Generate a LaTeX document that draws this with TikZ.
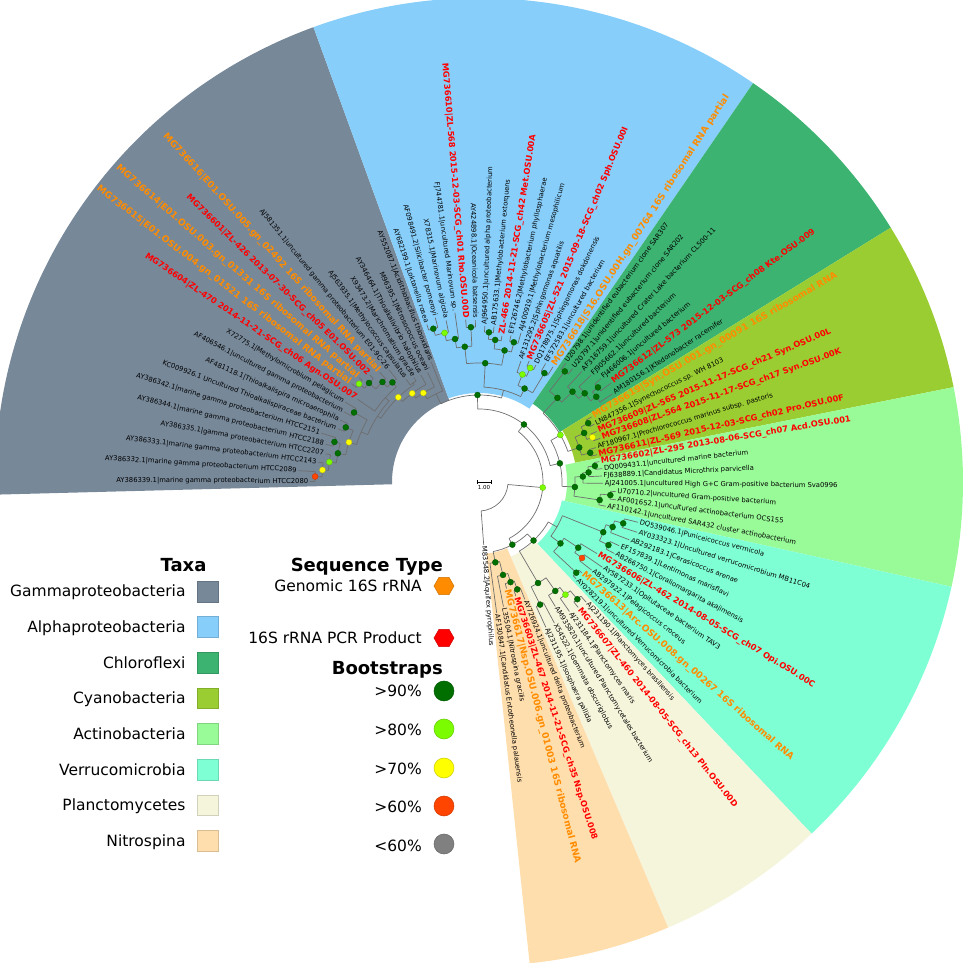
\documentclass[tikz,border=0pt]{standalone}
\usepackage{fontspec}
\setmainfont{DejaVu Sans}
\pgfdeclarelayer{dots}
\pgfsetlayers{main,dots}
\definecolor{cgam}{HTML}{778899}
\definecolor{calp}{HTML}{87CEFA}
\definecolor{cchl}{HTML}{3CB371}
\definecolor{ccya}{HTML}{9ACD32}
\definecolor{cact}{HTML}{98FB98}
\definecolor{cver}{HTML}{7FFFD4}
\definecolor{cpla}{HTML}{F5F5DC}
\definecolor{cnit}{HTML}{FFDEAD}
\definecolor{bs90}{HTML}{006F00}
\definecolor{bs80}{HTML}{7CFC00}
\definecolor{bs70}{HTML}{FFFF00}
\definecolor{bs60}{HTML}{FF4500}
\definecolor{bs00}{HTML}{808080}
\definecolor{pcr}{HTML}{FF0000}
\definecolor{gen}{HTML}{FF8C00}
\definecolor{brc}{HTML}{6E6E6E}
\newcommand\IN[6]{%
  \draw[br] (#2:#5) -- (#2:#1);
  \draw[br] (#3:#1) arc[start angle=#3, end angle=#4, radius=#1];
  \if\relax\detokenize{#6}\relax\else
    \begin{pgfonlayer}{dots}\fill[#6, draw=#6!75!black, line width=0.3pt] (#2:#1) circle[radius=3];\end{pgfonlayer}
  \fi}
\newcommand\LF[5]{%
  \pgfmathsetmacro\la{179.8-3.404*(#1-1)}%
  \pgfmathsetmacro\lr{#3+1}%
  \draw[br] (\la:#2) -- (\la:#3);
  \ifdim\la pt>90pt
    \node[#4, anchor=east, rotate=\la+180] (L#1) at (\la:\lr) {#5};
  \else
    \node[#4, anchor=west, rotate=\la] (L#1) at (\la:\lr) {#5};
  \fi}
\newcommand\WEDGE[4]{% a1 a2 rin color
  \fill[#4] (#1:#3) arc[start angle=#1, end angle=#2, radius=#3] -- (#2:484) arc[start angle=#2, end angle=#1, radius=484] -- cycle;}
\begin{document}
\begin{tikzpicture}[x=1pt,y=1pt,
  br/.style={draw=brc, line width=0.7pt},
  lb/.style={font=\fontsize{6.8}{8}\selectfont, text=black, inner sep=0.6pt},
  lr/.style={font=\bfseries\fontsize{8.3}{9}\selectfont, text=pcr, inner sep=0.6pt},
  lo/.style={font=\bfseries\fontsize{9.2}{10}\selectfont, text=gen, inner sep=0.6pt},
  lgt/.style={font=\fontsize{15.5}{17}\selectfont, inner sep=0pt},
  lgh/.style={font=\bfseries\fontsize{18}{20}\selectfont, inner sep=0pt},
  sq/.style={draw=#1!85!black, fill=#1, line width=0.5pt},
  bd/.style={draw=#1!80!black, fill=#1, line width=0.5pt}]
\useasboundingbox (-479,-481) rectangle (485,482);
\begin{scope}
\clip (-479,-481) rectangle (485,482);
\WEDGE{110}{181.5}{87}{cgam}
\WEDGE{55.5}{110}{89}{calp}
\WEDGE{31.7}{55.5}{95}{cchl}
\WEDGE{11.3}{31.7}{98}{ccya}
\WEDGE{-12.5}{11.3}{88}{cact}
\WEDGE{-46.6}{-12.5}{85}{cver}
\WEDGE{-67}{-46.6}{81}{cpla}
\WEDGE{-84}{-67}{72}{cnit}
\end{scope}
% ---------- tree: internal nodes ----------
% Gammaproteobacteria
\IN{164}{178.1}{176.40}{179.80}{157}{bs60}
\IN{157}{175.6}{172.99}{178.1}{151}{bs70}
\IN{151}{172.4}{169.59}{175.6}{144}{bs80}
\IN{150}{164.5}{162.78}{166.18}{144}{bs90}
\IN{144}{168.5}{164.5}{172.4}{136}{bs90}
\IN{144}{157.7}{155.97}{159.38}{136}{bs90}
\IN{136}{163}{157.7}{168.5}{128}{bs70}
\IN{143}{150.9}{149.16}{152.57}{128}{bs90}
\IN{128}{157}{150.9}{163}{121}{}
\IN{155}{140.7}{138.95}{142.36}{148}{bs80}
\IN{148}{138}{135.55}{140.7}{139}{bs90}
\IN{139}{134}{132.14}{138}{132}{bs90}
\IN{132}{131}{128.74}{134}{126}{bs90}
\IN{126}{138}{131}{145.76}{121}{}
\IN{121}{147}{138}{157}{117}{}
\IN{119}{123.6}{121.93}{125.34}{117}{}
\IN{117}{133.6}{123.6}{147}{111}{bs70}
\IN{111}{127}{118.53}{133.6}{105}{bs70}
\IN{105}{122}{115.12}{127}{98}{bs70}
\IN{98}{116}{111.72}{122}{87}{}
% Alphaproteobacteria
\IN{160}{106.6}{104.91}{108.32}{153}{bs90}
\IN{153}{103}{101.51}{106.6}{145}{bs80}
\IN{145}{99.5}{98.10}{103}{136}{bs90}
\IN{155}{93}{91.30}{94.70}{136}{bs90}
\IN{136}{96}{93}{99.5}{119}{bs90}
\IN{150}{86.2}{84.49}{87.89}{143}{bs90}
\IN{143}{83.5}{81.08}{86.2}{134}{bs90}
\IN{144}{76}{74.28}{77.68}{134}{bs90}
\IN{134}{79}{76}{83.5}{119}{bs90}
\IN{119}{87}{79}{96}{95}{bs90}
\IN{125}{65.8}{64.06}{67.47}{116}{bs80}
\IN{116}{68}{65.8}{70.87}{104}{bs80}
\IN{127}{59}{57.26}{60.66}{104}{bs90}
\IN{104}{64}{59}{68}{95}{bs90}
\IN{95}{75}{64}{87}{87}{}
\IN{87}{91}{75}{116}{73}{bs90}
% Chloroflexi
\IN{140}{52.2}{50.45}{53.85}{115}{bs90}
\IN{152}{38.5}{36.83}{40.24}{145}{bs90}
\IN{145}{36}{33.43}{38.5}{138}{bs90}
\IN{138}{40}{36}{43.64}{130}{bs90}
\IN{130}{44}{40}{47.04}{115}{bs90}
\IN{115}{47}{44}{52.2}{94}{bs90}
% Cyanobacteria
\IN{124}{28.3}{26.62}{30.02}{116}{bs90}
\IN{122}{21.5}{19.81}{23.22}{116}{bs70}
\IN{116}{25}{21.5}{28.3}{106}{bs90}
\IN{115}{14.7}{13.00}{16.41}{106}{bs90}
\IN{106}{19}{14.7}{25}{94}{bs90}
\IN{94}{30}{19}{47}{83}{bs80}
% Actinobacteria
\IN{117}{7.9}{6.20}{9.60}{110}{bs90}
\IN{110}{5}{2.79}{7.9}{104}{bs90}
\IN{104}{3}{-0.61}{5}{96}{bs90}
\IN{132}{-5.7}{-7.42}{-4.02}{122}{bs90}
\IN{122}{-8.5}{-10.82}{-5.7}{96}{bs90}
\IN{96}{-3}{-8.5}{3}{83}{bs90}
\IN{83}{13}{-3}{30}{73}{bs90}
\IN{73}{52}{13}{91}{64}{bs90}
% Verrucomicrobia
\IN{150}{-16}{-17.63}{-14.23}{141}{bs90}
\IN{141}{-18.6}{-21.04}{-16}{134}{bs90}
\IN{144}{-26}{-27.84}{-24.44}{134}{bs90}
\IN{134}{-22}{-26}{-18.6}{90}{bs90}
\IN{128}{-36.4}{-38.06}{-34.65}{119}{bs60}
\IN{119}{-33.5}{-36.4}{-31.25}{102}{bs90}
\IN{133}{-43}{-44.86}{-41.46}{102}{bs90}
\IN{102}{-37}{-43}{-33.5}{90}{bs90}
\IN{90}{-30}{-37}{-22}{80}{}
% Planctomycetes
\IN{153}{-50}{-51.67}{-48.27}{142}{bs90}
\IN{142}{-52.5}{-55.08}{-50}{133}{bs80}
\IN{133}{-55}{-58.48}{-52.5}{117}{bs90}
\IN{137}{-63.5}{-65.29}{-61.88}{117}{bs90}
\IN{117}{-59.7}{-63.5}{-55}{80}{bs90}
\IN{80}{-47}{-59.7}{-30}{71}{bs90}
% Nitrospina
\IN{114}{-70.4}{-72.10}{-68.69}{105}{bs90}
\IN{105}{-72.5}{-75.50}{-70.4}{96}{bs90}
\IN{96}{-75.5}{-78.90}{-72.5}{82}{bs90}
\IN{82}{-78.5}{-82.31}{-75.5}{71}{bs90}
\IN{71}{-62}{-78.5}{-47}{64}{bs90}
\IN{64}{-5}{-62}{52}{29}{bs80}
\draw[br] (-85.71:29) arc[start angle=-85.71, end angle=-5, radius=29];
% ---------- leaves ----------
\LF{1}{164}{169}{lb}{AY386339.1|marine gamma proteobacterium HTCC2080}
\LF{2}{164}{181}{lb}{AY386332.1|marine gamma proteobacterium HTCC2089}
\LF{3}{157}{162}{lb}{AY386333.1|marine gamma proteobacterium HTCC2143}
\LF{4}{151}{156}{lb}{AY386335.1|gamma proteobacterium HTCC2207}
\LF{5}{150}{158}{lb}{AY386344.1|marine gamma proteobacterium HTCC2188}
\LF{6}{150}{165}{lb}{AY386342.1|marine gamma proteobacterium HTCC2151}
\LF{7}{144}{151}{lb}{KC009926.1 Uncultured Thioalkalispiraceae bacterium}
\LF{8}{144}{152}{lb}{AF481118.1|Thioalkalispira microaerophila}
\LF{9}{143}{152}{lb}{AF406546.1|uncultured gamma proteobacterium}
\LF{10}{143}{156}{lb}{X72775.1|Methylomicrobium pelagicum}
\LF{11}{126}{147}{lr}{MG736604|ZL-470 2014-11-21-SCG\_ch06 Agn.OSU.007}
\LF{12}{155}{161}{lo}{MG736615|E01.OSU.004.gn\_01521 16S ribosomal RNA partial}
\LF{13}{155}{159}{lo}{MG736614|E01.OSU.003.gn\_01331 16S ribosomal RNA partial}
\LF{14}{148}{153}{lr}{MG736601|ZL-426 2013-07-30-SCG\_ch05 E01.OSU.002}
\LF{15}{139}{148}{lo}{MG736616|E01.OSU.005.gn\_02492 16S ribosomal RNA partial}
\LF{16}{132}{144}{lb}{AJ581351.1|uncultured gamma proteobacterium E01-9C-26}
\LF{17}{119}{126}{lb}{AJ563935.1|Methylococcus capsulatus}
\LF{18}{119}{123}{lb}{X93473.2|Marichromatium gracile}
\LF{19}{111}{122}{lb}{AY346464.1|Thioalkalivibrio halophilus}
\LF{20}{105}{121}{lb}{M96395.1|Nitrosococcus oceani}
\LF{21}{98}{129}{lb}{AY552087.1|Acidithiobacillus thiooxidans}
\LF{22}{160}{166}{lb}{AY682199.1|Loktanella rosea}
\LF{23}{160}{170}{lb}{AF098491.2|Silicibacter pomeroyi}
\LF{24}{153}{165}{lb}{X78315.1|Marinovum algicola}
\LF{25}{145}{171}{lb}{FJ744781.1|uncultured Marinovum sp.}
\LF{26}{155}{163}{lr}{MG736610|ZL-568 2015-12-03-SCG\_ch01 Rho.OSU.00D}
\LF{27}{155}{162}{lb}{AY424898.1|Oceanicola batsensis}
\LF{28}{150}{156}{lb}{AJ964950.1|uncultured alpha proteobacterium}
\LF{29}{150}{156}{lb}{AB175633.1|Methylobacterium extorquens}
\LF{30}{143}{148}{lr}{ZL-466 2014-11-21-SCG\_ch42 Met.OSU.00A}
\LF{31}{144}{150}{lb}{EF126746.2|Methylobacterium phyllosphaerae}
\LF{32}{144}{155}{lb}{AJ400919.1|Methylobacterium mesophilicum}
\LF{33}{116}{128}{lb}{AF131295.2|Sphingomonas aquatilis}
\LF{34}{125}{131}{lr}{MG736605|ZL-521 2015-09-18-SCG\_ch02 Sph.OSU.00I}
\LF{35}{125}{130}{lb}{DQ178975.1|Sphingomonas dokdonensis}
\LF{36}{127}{136}{lb}{EF572583.1|uncultured bacterium}
\LF{37}{127}{137}{lo}{MG736618|S16.OSU.00H.gn\_00764 16S ribosomal RNA partial}
\LF{38}{140}{147}{lb}{U20798.1|unidentified eubacterium clone SAR307}
\LF{39}{140}{147}{lb}{U20797.1|unidentified eubacterium clone SAR202}
\LF{40}{130}{151}{lb}{AF316759.1|uncultured Crater Lake bacterium CL500-11}
\LF{41}{138}{155}{lb}{FJ905662.1|uncultured bacterium}
\LF{42}{152}{160}{lb}{FJ466006.1|uncultured bacterium}
\LF{43}{152}{165}{lr}{MG736612|ZL-573 2015-12-03-SCG\_ch08 Kte.OSU.009}
\LF{44}{145}{160}{lb}{AM180156.1|Ktedonobacter racemifer}
\LF{45}{124}{130}{lo}{MG736619|Syn.OSU.001.gn\_00091 16S ribosomal RNA}
\LF{46}{124}{129}{lb}{LN847356.1|Synechococcus sp. WH 8103}
\LF{47}{122}{128}{lr}{MG736609|ZL-565 2015-11-17-SCG\_ch21 Syn.OSU.00L}
\LF{48}{122}{129}{lr}{MG736608|ZL-564 2015-11-17-SCG\_ch17 Syn.OSU.00K}
\LF{49}{115}{122}{lb}{AF180967.1|Prochlorococcus marinus subsp. pastoris}
\LF{50}{115}{121}{lr}{MG736611|ZL-569 2015-12-03-SCG\_ch02 Pro.OSU.00F}
\LF{51}{117}{122}{lr}{MG736602|ZL-295 2013-08-06-SCG\_ch07 Acd.OSU.001}
\LF{52}{117}{124}{lb}{DQ009431.1|uncultured marine bacterium}
\LF{53}{110}{123}{lb}{FJ638889.1|Candidatus Microthrix parvicella}
\LF{54}{104}{124}{lb}{AJ241005.1|uncultured High G+C Gram-positive bacterium Sva0996}
\LF{55}{132}{137}{lb}{U70710.2|uncultured Gram-positive bacterium}
\LF{56}{132}{138}{lb}{AF001652.1|uncultured actinobacterium OCS155}
\LF{57}{122}{129}{lb}{AF110142.1|uncultured SAR432 cluster actinobacterium}
\LF{58}{150}{164}{lb}{DQ539046.1|Puniceicoccus vermicola}
\LF{59}{150}{166}{lb}{AY033323.1|Uncultured verrucomicrobium MB11C04}
\LF{60}{141}{161}{lb}{AB292183.1|Cerasicoccus arenae}
\LF{61}{144}{154}{lb}{EF157839.1|Lentimonas marisflavi}
\LF{62}{144}{153}{lb}{AB266750.1|Coraliomargarita akajimensis}
\LF{63}{119}{138}{lr}{MG736606|ZL-462 2014-08-05-SCG\_ch07 Opi.OSU.00C}
\LF{64}{128}{150}{lb}{AY587233.1|Opitutaceae bacterium TAV3}
\LF{65}{128}{143}{lb}{AB297922.1|Pelagicoccus croceus}
\LF{66}{133}{137}{lo}{MG736613|Arc.OSU.008.gn\_00267 16S ribosomal RNA}
\LF{67}{133}{137}{lb}{AY028219.1|uncultured Verrucomicrobia bacterium}
\LF{68}{153}{161}{lb}{AJ231190.1|Planctomyces brasiliensis}
\LF{69}{153}{160}{lr}{MG736607|ZL-460 2014-08-05-SCG\_ch13 Pln.OSU.00D}
\LF{70}{142}{158}{lb}{AJ231184.1|Planctomyces maris}
\LF{71}{133}{146}{lb}{AM935820.1|uncultured Planctomycetales bacterium}
\LF{72}{137}{160}{lb}{X54522.1|Gemmata obscuriglobus}
\LF{73}{137}{160}{lb}{AJ231195.1|Isosphaera pallida}
\LF{74}{114}{126}{lb}{AY726924.1|uncultured delta proteobacterium}
\LF{75}{114}{120}{lr}{MG736603|ZL-467 2014-11-21-SCG\_ch35 Nsp.OSU.008}
\LF{76}{105}{110}{lo}{MG736617|Nsp.OSU.006.gn\_01003 16S ribosomal RNA}
\LF{77}{96}{127}{lb}{L35504.1|Nitrospina gracilis}
\LF{78}{82}{132}{lb}{AF130847.1|Candidatus Entotheonella palauensis}
\LF{79}{29}{63}{lb}{M83548.2|Aquifex pyrophilus}
% scale bar
\draw[line width=0.5pt] (-2,0) -- (12,0) (-2,-2) -- (-2,2) (12,-2) -- (12,2);
\node[font=\fontsize{5.5}{6}\selectfont, inner sep=0pt] (scale) at (5,-6) {1.00};
% ---------- legend ----------
\node[lgh, anchor=base] (taxa) at (-295.5,-90) {Taxa};
\foreach \t/\c [count=\k from 0] in {Gammaproteobacteria/cgam, Alphaproteobacteria/calp, Chloroflexi/cchl, Cyanobacteria/ccya, Actinobacteria/cact, Verrucomicrobia/cver, Planctomycetes/cpla, Nitrospina/cnit}{
  \pgfmathsetmacro\yy{-109.5-35.6*\k}
  \node[lgt, anchor=base east] (tx\k) at (-293.3,\yy-5.5) {\t};
  \draw[sq=\c] (-281.3,\yy-10.35) rectangle ++(20.7,20.7);
}
\node[lgh, anchor=base east] (seqt) at (-36,-90) {Sequence Type};
\node[lgt, anchor=base east] (gen) at (-57,-110) {Genomic 16S rRNA};
\draw[bd=gen] (-25,-104) -- (-30,-95.3) -- (-40,-95.3) -- (-45,-104) -- (-40,-112.7) -- (-30,-112.7) -- cycle;
\node[lgt, anchor=base east] (pcr) at (-57,-162) {16S rRNA PCR Product};
\draw[bd=pcr] (-25,-156) -- (-30,-147.3) -- (-40,-147.3) -- (-45,-156) -- (-40,-164.7) -- (-30,-164.7) -- cycle;
\node[lgh, anchor=base east] (boot) at (-36,-193) {Bootstraps};
\node[lgt, anchor=base east] (b90) at (-57,-215) {>90\%};
\draw[bd=bs90] (-35,-209) circle[radius=10];
\node[lgt, anchor=base east] (b80) at (-57,-254) {>80\%};
\draw[bd=bs80] (-35,-247) circle[radius=10];
\node[lgt, anchor=base east] (b70) at (-57,-292) {>70\%};
\draw[bd=bs70] (-35,-286) circle[radius=10];
\node[lgt, anchor=base east] (b60) at (-57,-330) {>60\%};
\draw[bd=bs60] (-35,-324) circle[radius=10];
\node[lgt, anchor=base east] (b00) at (-57,-369) {<60\%};
\draw[bd=bs00] (-35,-362) circle[radius=10];
\end{tikzpicture}
\end{document}
